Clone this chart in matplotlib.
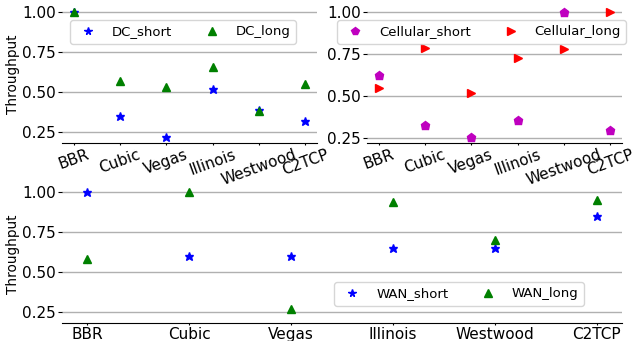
import matplotlib
matplotlib.use("Agg")
import matplotlib.pyplot as plt
import numpy as np

categories = ["BBR", "Cubic", "Vegas", "Illinois", "Westwood", "C2TCP"]
dc_short = [1.00, 0.35, 0.22, 0.52, 0.39, 0.32]
dc_long = [1.00, 0.57, 0.53, 0.66, 0.38, 0.55]
cell_short = [0.63, 0.33, 0.26, 0.36, 1.00, 0.30]
cell_long = [0.55, 0.79, 0.52, 0.73, 0.78, 1.00]
wan_short = [1.00, 0.60, 0.60, 0.65, 0.65, 0.85]
wan_long = [0.58, 1.00, 0.27, 0.94, 0.70, 0.95]
yticks = [0.25, 0.50, 0.75, 1.00]

W, H = 641, 341
fig = plt.figure(figsize=(W / 100, H / 100), dpi=100)

def box(l, r, t, b):
    return [l / W, 1 - b / H, (r - l) / W, (b - t) / H]

ax1 = fig.add_axes(box(62, 317, 6, 143))
ax2 = fig.add_axes(box(367, 622, 6, 143))
ax3 = fig.add_axes(box(62, 622, 186, 323))

x = np.arange(len(categories))

def style(ax, rot):
    for s in ["top", "right", "left"]:
        ax.spines[s].set_visible(False)
    ax.yaxis.grid(True, color="#b0b0b0", linewidth=1)
    ax.set_axisbelow(True)
    ax.set_yticks(yticks)
    ax.set_yticklabels([f"{v:.2f}" for v in yticks])
    ax.set_xticks(x)
    ax.set_xticklabels(categories, rotation=rot, ha="center")
    ax.tick_params(axis="y", labelsize=11, length=3, pad=1.5)
    ax.tick_params(axis="x", labelsize=11, length=1.5, pad=1.5)

ms = 6.3
leg_kw = dict(ncol=2, loc="upper left", bbox_transform=fig.transFigure,
              borderaxespad=0, markerscale=0.85, fontsize=9.5)

ax1.plot(x, dc_short, "*", color="b", ms=ms, label="DC_short")
ax1.plot(x, dc_long, "^", color="g", ms=ms, label="DC_long")
style(ax1, 20)
ax1.set_ylabel("Throughput", fontsize=9.8, labelpad=1.5)
ax1.legend(bbox_to_anchor=(70 / W, 1 - 20 / H), **leg_kw)

ax2.plot(x, cell_short, "p", color="m", ms=ms, label="Cellular_short")
ax2.plot(x, cell_long, ">", color="r", ms=ms, label="Cellular_long")
style(ax2, 20)
ax2.legend(bbox_to_anchor=(337 / W, 1 - 20 / H), **leg_kw)

ax3.plot(x, wan_short, "*", color="b", ms=ms, label="WAN_short")
ax3.plot(x, wan_long, "^", color="g", ms=ms, label="WAN_long")
style(ax3, 0)
ax3.set_ylim(ax1.get_ylim())
ax3.set_ylabel("Throughput", fontsize=9.8, labelpad=1.5)
ax3.legend(bbox_to_anchor=(334 / W, 1 - 282 / H), **leg_kw)

fig.savefig("out.png", dpi=100)
